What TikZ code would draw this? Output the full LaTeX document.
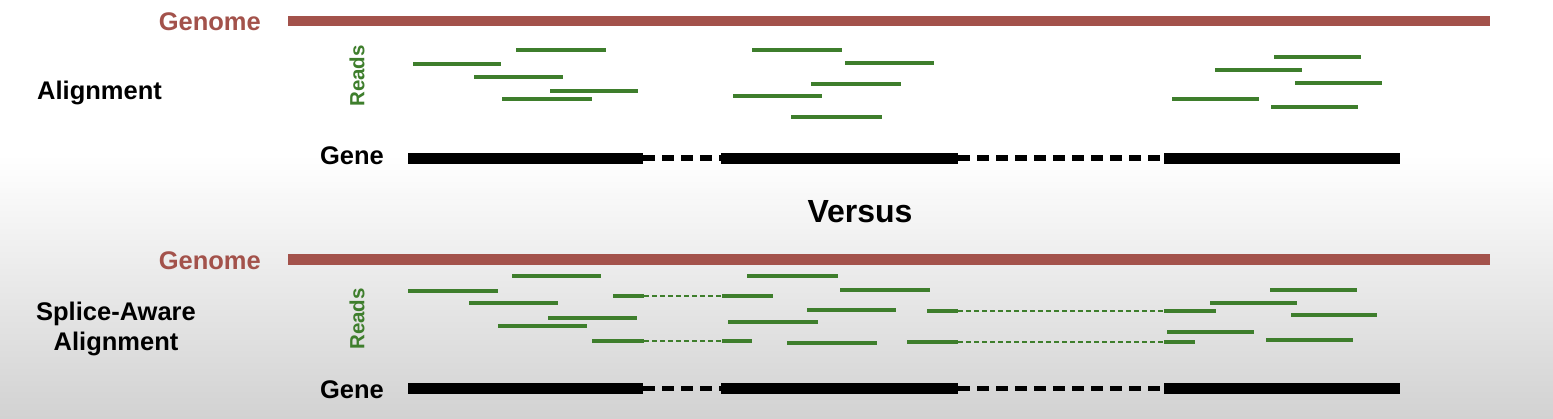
\documentclass[tikz,border=0pt]{standalone}
\usepackage{fontspec}
\setmainfont{Liberation Sans}
\usepackage{xcolor}
\usetikzlibrary{positioning}
\usetikzlibrary{calc}

\definecolor{genomered}{RGB}{163,82,75}
\definecolor{readgreen}{RGB}{62,126,44}
\definecolor{bggray}{RGB}{210,210,210}

\begin{document}
\begin{tikzpicture}[x=1pt,y=-1pt,
    label node/.style={inner sep=0pt,font=\fontsize{25.5}{30}\selectfont\bfseries},
    reads label/.style={inner sep=0pt,rotate=90,text=readgreen,font=\fontsize{20.5}{24}\selectfont\bfseries},
    genome/.style={draw=genomered,line width=10.5pt},
    read/.style={draw=readgreen,line width=4.3pt},
    splice/.style={draw=readgreen,line width=2.2pt,dash pattern=on 5pt off 3pt},
    exon/.style={fill=black,inner sep=0pt,minimum height=11pt},
    intron/.style={draw=black,line width=5.5pt,dash pattern=on 12pt off 7pt}]
\useasboundingbox (0,0) rectangle (1553,418);
\fill[white] (0,0) rectangle (1553,418);
\shade[top color=white,bottom color=bggray] (0,155) rectangle (1553,418);

% Alignment
\node[label node,text=genomered,anchor=base east] (genome1) at (261,30) {Genome};
\draw[genome] (288,21) -- (1490,21);
\node[label node,anchor=base west] (align1) at (37,99) {Alignment};
\node[reads label] (reads1) at (357,76) {Reads};

\draw[read]
  (516,50) -- (606,50)  (413,64) -- (501,64)  (474,77) -- (563,77)
  (550,91) -- (638,91)  (502,99) -- (592,99)
  (752,50) -- (842,50)  (845,63) -- (934,63)  (811,84) -- (901,84)
  (733,96) -- (822,96)  (791,117) -- (882,117)
  (1274,57) -- (1361,57)  (1215,70) -- (1302,70)  (1295,83) -- (1382,83)
  (1172,99) -- (1259,99)  (1271,107) -- (1358,107);

\node[label node,anchor=base east] (gene1) at (384,164) {Gene};
\node[exon,minimum width=235pt] (ex1) at (525.5,158) {};
\node[exon,minimum width=237pt] (ex2) at (839.5,158) {};
\node[exon,minimum width=236pt] (ex3) at (1282,158) {};
\draw[intron] (ex1.east) -- (ex2.west);
\draw[intron] (ex2.east) -- (ex3.west);

\node[inner sep=0pt,anchor=base,font=\fontsize{32}{38}\selectfont\bfseries] (versus) at (860,222) {Versus};

% Splice-Aware Alignment
\node[label node,text=genomered,anchor=base east] (genome2) at (261,269) {Genome};
\draw[genome] (288,259.5) -- (1490,259.5);
\node[label node,align=center,anchor=base] (align2) at (116,350) {Splice-Aware\\Alignment};
\node[reads label] (reads2) at (357,319) {Reads};

\draw[read]
  (512,276) -- (601,276)  (408,291) -- (498,291)  (469,303) -- (558,303)
  (548,318) -- (637,318)  (498,326) -- (587,326)
  (747,276) -- (838,276)  (840,290) -- (930,290)  (807,310) -- (896,310)
  (728,322) -- (818,322)  (787,343) -- (877,343)
  (1270,290) -- (1357,290)  (1210,303) -- (1297,303)  (1291,315) -- (1377,315)
  (1167,332) -- (1254,332)  (1266,340) -- (1353,340);

% split reads
\coordinate (s1a) at (644,296);  \coordinate (s1b) at (722,296);
\coordinate (s2a) at (644,341);  \coordinate (s2b) at (722,341);
\coordinate (s3a) at (958,311);  \coordinate (s3b) at (1164,311);
\coordinate (s4a) at (958,342);  \coordinate (s4b) at (1164,342);
\draw[read] (613,296) -- (s1a)  (s1b) -- (773,296);
\draw[read] (592,341) -- (s2a)  (s2b) -- (752,341);
\draw[read] (927,311) -- (s3a)  (s3b) -- (1216,311);
\draw[read] (907,342) -- (s4a)  (s4b) -- (1195,342);
\draw[splice] (s1a) -- (s1b);
\draw[splice] (s2a) -- (s2b);
\draw[splice] (s3a) -- (s3b);
\draw[splice] (s4a) -- (s4b);

\node[label node,anchor=base east] (gene2) at (384,398) {Gene};
\node[exon,minimum width=235pt] (sx1) at (525.5,388.5) {};
\node[exon,minimum width=237pt] (sx2) at (839.5,388.5) {};
\node[exon,minimum width=236pt] (sx3) at (1282,388.5) {};
\draw[intron] (sx1.east) -- (sx2.west);
\draw[intron] (sx2.east) -- (sx3.west);

\end{tikzpicture}
\end{document}
